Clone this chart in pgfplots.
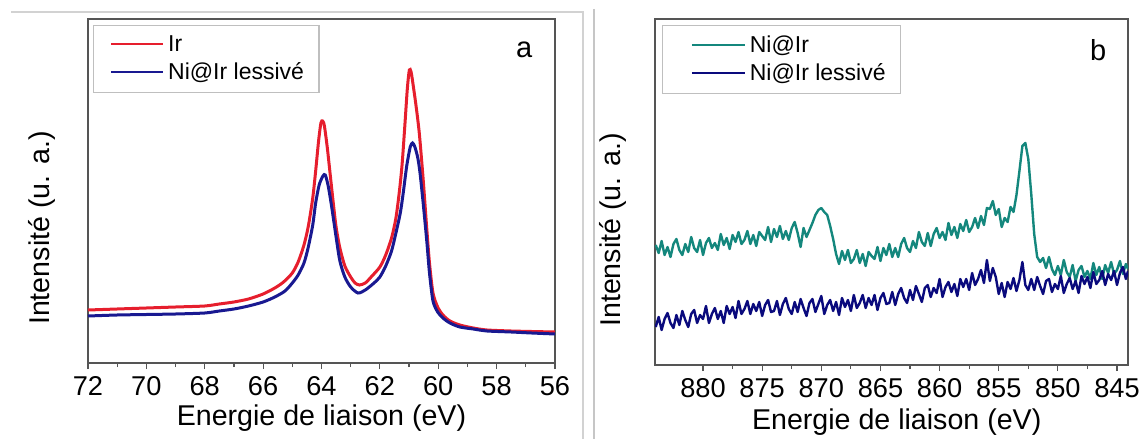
\documentclass[border=0pt]{standalone}
\usepackage{fontspec}
\setmainfont{Liberation Sans}
\usepackage{pgfplots}
\pgfplotsset{compat=1.18}

\definecolor{irred}{RGB}{230,30,45}
\definecolor{lblue}{RGB}{25,25,145}
\definecolor{teal2}{RGB}{20,135,125}
\definecolor{navy2}{RGB}{10,10,125}
\definecolor{axgray}{RGB}{85,85,85}

\pgfplotsset{
  xps/.style={
    scale only axis,
    axis line style={axgray, line width=0.75pt},
    x dir=reverse,
    ytick=\empty,
    xtick pos=left,
    xtick align=outside,
    major tick length=3pt,
    minor tick length=2pt,
    every tick/.style={axgray, line width=0.6pt},
    minor x tick num=1,
    /pgf/number format/assume math mode=true,
    tick label style={font=\fontsize{13.6}{16}\selectfont},
    label style={font=\fontsize{14.3}{17}\selectfont},
    legend style={draw=gray!50, line width=0.6pt, anchor=north west,
      font=\fontsize{11.5}{13.5}\selectfont, inner xsep=5.5pt, inner ysep=3pt,
      row sep=0pt, cells={anchor=west}},
  }
}

\begin{document}
\begin{tikzpicture}
\useasboundingbox (0,0) rectangle (569.5pt,219.5pt);

% panel a
\begin{axis}[xps,
  at={(44pt,38pt)}, anchor=south west,
  width=233.5pt, height=172pt,
  xmin=56, xmax=72, ymin=0, ymax=344,
  xtick={56,58,...,72},
  xlabel={Energie de liaison (eV)},
  ylabel={Intensité (u. a.)},
  xlabel style={at={(axis description cs:0.5,-0.183)}, anchor=base},
  ylabel style={at={(axis description cs:-0.0985,0.392)}, anchor=center},
  legend style={at={(rel axis cs:0.0107,0.9826)}},
  legend image code/.code={\path (0pt,0pt); \draw[#1, line width=1.1pt] (2.5pt,0.3pt) -- (28.5pt,0.3pt);},
]
\addplot[irred, line width=1.5pt, smooth, tension=0.45] coordinates {
(72.0,53)(71.0,54)(70.0,55)(69.0,56)(68.0,57)(67.5,59)(67.0,61)(66.5,64)(66.0,69)(65.6,75)(65.3,81)(65.0,90)(64.8,101)(64.6,118)(64.45,137)(64.3,165)(64.2,192)(64.1,222)(64.02,240)(63.96,242)(63.9,237)(63.8,215)(63.7,188)(63.6,161)(63.5,136)(63.37,115)(63.2,97)(63.0,86)(62.85,80)(62.7,78)(62.5,80)(62.3,86)(62.0,96)(61.8,108)(61.6,125)(61.45,145)(61.33,172)(61.24,198)(61.15,235)(61.06,274)(60.99,293)(60.93,291)(60.86,278)(60.76,257)(60.65,230)(60.52,185)(60.4,137)(60.3,100)(60.18,70)(60.02,56)(59.84,48)(59.6,42)(59.26,38)(58.8,35)(58.33,33)(57.5,32)(56.8,31.5)(56.0,31)
};
\addlegendentry{Ir}
\addplot[lblue, line width=1.5pt, smooth, tension=0.45] coordinates {
(72.0,47)(71.0,48)(70.0,48.5)(69.0,49)(68.0,50)(67.5,52)(67.0,54)(66.5,57)(66.0,61)(65.6,66)(65.25,72)(65.0,80)(64.8,88)(64.6,100)(64.46,115)(64.3,138)(64.2,160)(64.08,178)(63.95,187)(63.87,188)(63.77,177)(63.65,156)(63.5,126)(63.37,102)(63.2,86)(63.0,76)(62.75,70)(62.5,73)(62.2,80)(62.0,86)(61.8,97)(61.6,112)(61.45,130)(61.3,150)(61.2,170)(61.08,197)(60.96,216)(60.88,220)(60.8,216)(60.7,205)(60.62,189)(60.5,155)(60.39,121)(60.3,90)(60.18,62)(60.02,51)(59.84,45)(59.6,40)(59.26,36)(58.8,34)(58.33,32)(57.5,31)(56.8,30)(56.0,29)
};
\addlegendentry{Ni@Ir lessivé}
\node[font=\fontsize{14.5}{17}\selectfont] at (rel axis cs:0.934,0.91) {a};
\end{axis}

% panel b
\begin{axis}[xps,
  at={(327.5pt,37pt)}, anchor=south west,
  width=236.5pt, height=173pt,
  xmin=844.07, xmax=884.06, ymin=0, ymax=346,
  xtick={845,850,...,880},
  xlabel={Energie de liaison (eV)},
  ylabel={Intensité (u. a.)},
  xlabel style={at={(axis description cs:0.511,-0.185)}, anchor=base},
  ylabel style={at={(axis description cs:-0.089,0.39)}, anchor=center},
  legend style={at={(rel axis cs:0.0148,0.9827)}},
  legend image code/.code={\path (0pt,0pt); \draw[#1, line width=1.0pt] (8.5pt,0.3pt) -- (35pt,0.3pt);},
]
\addplot[teal2, line width=1.2pt, line join=round] coordinates {
(884.00,120)(883.75,112)(883.50,124)(883.25,110)(883.00,118)(882.75,108)(882.50,121)(882.25,126)(882.00,115)(881.75,110)(881.50,121)(881.25,113)(881.00,128)(880.75,117)(880.50,113)(880.25,125)(880.00,110)(879.75,122)(879.50,127)(879.25,117)(879.00,122)(878.75,115)(878.50,131)(878.25,120)(878.00,127)(877.75,116)(877.50,130)(877.25,123)(877.00,133)(876.75,121)(876.50,125)(876.25,134)(876.00,121)(875.75,130)(875.50,119)(875.25,133)(875.00,129)(874.75,125)(874.50,138)(874.25,123)(874.00,136)(873.75,128)(873.50,139)(873.25,126)(873.00,134)(872.75,125)(872.50,137)(872.25,143)(872.00,132)(871.75,118)(871.50,137)(871.25,128)(871.00,135)(870.75,142)(870.50,150)(870.25,155)(870.00,157)(869.75,153)(869.50,150)(869.25,139)(869.00,126)(868.75,111)(868.50,101)(868.25,114)(868.00,105)(867.75,115)(867.50,102)(867.25,106)(867.00,115)(866.75,102)(866.50,111)(866.25,99)(866.00,113)(865.75,109)(865.50,106)(865.25,118)(865.00,104)(864.75,117)(864.50,110)(864.25,121)(864.00,108)(863.75,117)(863.50,108)(863.25,121)(863.00,127)(862.75,117)(862.50,113)(862.25,124)(862.00,117)(861.75,133)(861.50,123)(861.25,119)(861.00,132)(860.75,119)(860.50,131)(860.25,137)(860.00,127)(859.75,133)(859.50,125)(859.25,142)(859.00,130)(858.75,138)(858.50,127)(858.25,141)(858.00,134)(857.75,145)(857.50,133)(857.25,138)(857.00,147)(856.75,137)(856.50,149)(856.25,140)(856.00,157)(855.75,156)(855.50,164)(855.25,150)(855.00,156)(854.75,138)(854.50,147)(854.25,143)(854.00,158)(853.75,153)(853.50,170)(853.25,194)(853.00,219)(852.75,222)(852.50,206)(852.25,171)(852.00,131)(851.75,108)(851.50,103)(851.25,107)(851.00,97)(850.75,108)(850.50,96)(850.25,90)(850.00,99)(849.75,90)(849.50,105)(849.25,93)(849.00,88)(848.75,100)(848.50,84)(848.25,95)(848.00,99)(847.75,88)(847.50,94)(847.25,86)(847.00,102)(846.75,90)(846.50,98)(846.25,86)(846.00,100)(845.75,92)(845.50,103)(845.25,91)(845.00,95)(844.75,104)(844.50,91)(844.25,101)(844.07,96)
};
\addlegendentry{Ni@Ir}
\addplot[navy2, line width=1.2pt, line join=round] coordinates {
(884.00,38)(883.75,48)(883.50,35)(883.25,46)(883.00,52)(882.75,42)(882.50,37)(882.25,50)(882.00,40)(881.75,54)(881.50,45)(881.25,38)(881.00,51)(880.75,55)(880.50,42)(880.25,50)(880.00,46)(879.75,59)(879.50,42)(879.25,51)(879.00,57)(878.75,46)(878.50,54)(878.25,42)(878.00,59)(877.75,51)(877.50,58)(877.25,47)(877.00,64)(876.75,51)(876.50,56)(876.25,64)(876.00,51)(875.75,61)(875.50,54)(875.25,63)(875.00,49)(874.75,60)(874.50,65)(874.25,53)(874.00,54)(873.75,64)(873.50,50)(873.25,61)(873.00,67)(872.75,56)(872.50,51)(872.25,63)(872.00,53)(871.75,66)(871.50,57)(871.25,49)(871.00,62)(870.75,66)(870.50,53)(870.25,61)(870.00,69)(869.75,51)(869.50,60)(869.25,65)(869.00,54)(868.75,63)(868.50,50)(868.25,67)(868.00,58)(867.75,65)(867.50,54)(867.25,70)(867.00,57)(866.75,62)(866.50,70)(866.25,57)(866.00,67)(865.75,60)(865.50,70)(865.25,55)(865.00,67)(864.75,72)(864.50,61)(864.25,62)(864.00,73)(863.75,60)(863.50,71)(863.25,77)(863.00,67)(862.75,62)(862.50,75)(862.25,65)(862.00,79)(861.75,71)(861.50,63)(861.25,77)(861.00,80)(860.75,68)(860.50,77)(860.25,72)(860.00,86)(859.75,68)(859.50,78)(859.25,83)(859.00,73)(858.75,81)(858.50,69)(858.25,86)(858.00,78)(857.75,86)(857.50,75)(857.25,92)(857.00,80)(856.75,86)(856.50,95)(856.25,82)(856.00,105)(855.75,84)(855.50,97)(855.25,88)(855.00,71)(854.75,82)(854.50,68)(854.25,83)(854.00,76)(853.75,87)(853.50,74)(853.25,85)(853.00,103)(852.75,80)(852.50,75)(852.25,86)(852.00,75)(851.75,88)(851.50,79)(851.25,71)(851.00,84)(850.75,86)(850.50,73)(850.25,81)(850.00,76)(849.75,89)(849.50,72)(849.25,81)(849.00,87)(848.75,76)(848.50,84)(848.25,72)(848.00,89)(847.75,81)(847.50,88)(847.25,77)(847.00,93)(846.75,81)(846.50,85)(846.25,94)(846.00,80)(845.75,91)(845.50,85)(845.25,94)(845.00,80)(844.75,92)(844.50,98)(844.25,86)(844.07,94)
};
\addlegendentry{Ni@Ir lessivé}
\node[font=\fontsize{14.5}{17}\selectfont] at (rel axis cs:0.937,0.91) {b};
\end{axis}

% page decorations
\draw[gray!35, line width=0.6pt] (5.5pt,213.5pt) -- (291.5pt,213.5pt) -- (291.5pt,0pt);
\draw[gray!45, line width=0.6pt] (297pt,215pt) -- (297pt,0pt);
\end{tikzpicture}
\end{document}
